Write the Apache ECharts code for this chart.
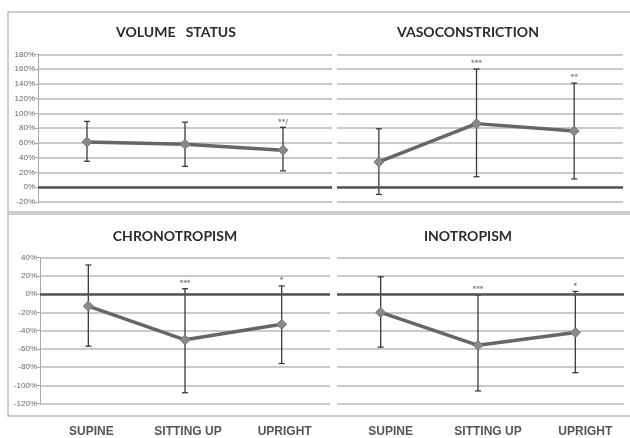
<!DOCTYPE html>
<html>
<head>
<meta charset="utf-8">
<script src="https://cdn.jsdelivr.net/npm/echarts@6/dist/echarts.min.js"></script>
<style>html,body{margin:0;padding:0;background:#fff;}#c{width:630px;height:438px;}</style>
</head>
<body>
<div id="c"></div>
<script>
const categories = ['SUPINE', 'SITTING UP', 'UPRIGHT'];

const volumeMean = [61, 58, 50];
const volumeLow = [35, 28, 22];
const volumeHigh = [89, 88, 81];
const volumeSig = ['', '', '**/'];

const vasoMean = [34, 86, 76];
const vasoLow = [-10, 14, 11];
const vasoHigh = [79, 160, 141];
const vasoSig = ['', '***', '**'];

const chronoMean = [-13, -50, -33];
const chronoLow = [-57, -108, -76];
const chronoHigh = [32, 6, 9];
const chronoSig = ['', '***', '*'];

const inoMean = [-20, -56, -42];
const inoLow = [-58, -106, -86];
const inoHigh = [19, -1, 3];
const inoSig = ['', '***', '*'];

const topTicks = {min: -20, max: 180, interval: 20};
const bottomTicks = {min: -120, max: 40, interval: 20};

const titles = ['VOLUME   STATUS', 'VASOCONSTRICTION', 'CHRONOTROPISM', 'INOTROPISM'];

const panels = [
  {mean: volumeMean, low: volumeLow, high: volumeHigh, sig: volumeSig},
  {mean: vasoMean, low: vasoLow, high: vasoHigh, sig: vasoSig},
  {mean: chronoMean, low: chronoLow, high: chronoHigh, sig: chronoSig},
  {mean: inoMean, low: inoLow, high: inoHigh, sig: inoSig}
];

const chart = echarts.init(document.getElementById('c'), null, {renderer: 'canvas'});

const grids = [
  {left: 38, top: 54.3, width: 294, height: 147.5},
  {left: 330, top: 54.3, width: 293, height: 147.5},
  {left: 40, top: 257.7, width: 290, height: 146},
  {left: 332, top: 257.7, width: 292, height: 146}
];

function makeRender(sig) {
  return function (params, api) {
    const x = api.value(0);
    const lo = api.coord([x, api.value(1)]);
    const hi = api.coord([x, api.value(2)]);
    const w = 3;
    const st = {stroke: '#3a3a3a', lineWidth: 1.3};
    const children = [
      {type: 'line', shape: {x1: lo[0], y1: lo[1], x2: hi[0], y2: hi[1]}, style: st},
      {type: 'line', shape: {x1: hi[0] - w, y1: hi[1], x2: hi[0] + w, y2: hi[1]}, style: st},
      {type: 'line', shape: {x1: lo[0] - w, y1: lo[1], x2: lo[0] + w, y2: lo[1]}, style: st}
    ];
    const s = sig[params.dataIndex];
    if (s) {
      children.push({type: 'text', x: hi[0], y: hi[1] - 2,
        style: {text: s, align: 'center', verticalAlign: 'bottom', fill: '#777', font: 'bold 7px "DejaVu Sans"'}});
    }
    return {type: 'group', children: children};
  };
}

const xAxes = [], yAxes = [], series = [];
panels.forEach((p, i) => {
  const bottom = i >= 2;
  const leftSide = i % 2 === 0;
  const ticks = bottom ? bottomTicks : topTicks;
  xAxes.push({
    type: 'category', gridIndex: i, data: categories,
    axisLine: {show: false}, axisTick: {show: false}, splitLine: {show: false},
    axisLabel: bottom ? {
      show: true, margin: 22, fontSize: 12, fontWeight: 'bold', color: '#555',
      fontFamily: '"Liberation Sans Narrow", "Arial Narrow", "Liberation Sans", sans-serif',
      padding: leftSide ? [0, 0, 0, 6] : [0, 0, 0, 20]
    } : {show: false}
  });
  yAxes.push({
    type: 'value', gridIndex: i, min: ticks.min, max: ticks.max, interval: ticks.interval,
    axisLine: {show: leftSide, lineStyle: {color: '#aaa', width: 1}},
    axisTick: {show: leftSide, length: 3, lineStyle: {color: '#aaa'}},
    axisLabel: {show: leftSide, formatter: '{value}%', fontSize: 8, color: '#666', margin: 3,
      fontFamily: '"Liberation Sans", sans-serif'},
    splitLine: {show: true, lineStyle: {color: '#b8b8b8', width: 1.5}}
  });
  series.push({
    type: 'custom', xAxisIndex: i, yAxisIndex: i, z: 3,
    renderItem: makeRender(p.sig),
    data: p.low.map((v, k) => [k, v, p.high[k]]),
    silent: true
  });
  series.push({
    type: 'line', xAxisIndex: i, yAxisIndex: i, z: 4,
    data: p.mean,
    symbol: 'diamond', symbolSize: 10,
    lineStyle: {color: '#666', width: 3.5},
    itemStyle: {color: '#8a8a8a', borderColor: '#777', borderWidth: 1},
    silent: true, animation: false,
    markLine: {
      silent: true, symbol: 'none', label: {show: false},
      lineStyle: {color: '#555', width: 2.5, type: 'solid'},
      data: [{yAxis: 0}]
    }
  });
});

const titlePos = [[176, 32], [468, 32], [175, 236], [468, 236]];
const graphics = [
  {type: 'rect', shape: {x: 8, y: 12, width: 640, height: 200}, style: {fill: 'none', stroke: '#bdbdbd', lineWidth: 1.5}, z: 1},
  {type: 'rect', shape: {x: 8, y: 214, width: 640, height: 202}, style: {fill: 'none', stroke: '#bdbdbd', lineWidth: 1.5}, z: 1},
  {type: 'rect', shape: {x: 332, y: 48, width: 5, height: 160}, style: {fill: '#fff'}, z: 50},
  {type: 'rect', shape: {x: 330.5, y: 250, width: 6.5, height: 160}, style: {fill: '#fff'}, z: 50}
];
titles.forEach((t, i) => {
  graphics.push({type: 'text', x: titlePos[i][0], y: titlePos[i][1], z: 60,
    style: {text: t, align: 'center', verticalAlign: 'middle', fill: '#2b2b2b',
      font: 'bold 14px Lato, "Open Sans", sans-serif'}});
});

chart.setOption({
  animation: false,
  backgroundColor: '#fff',
  grid: grids,
  xAxis: xAxes,
  yAxis: yAxes,
  series: series,
  graphic: graphics
});
</script>
</body>
</html>
